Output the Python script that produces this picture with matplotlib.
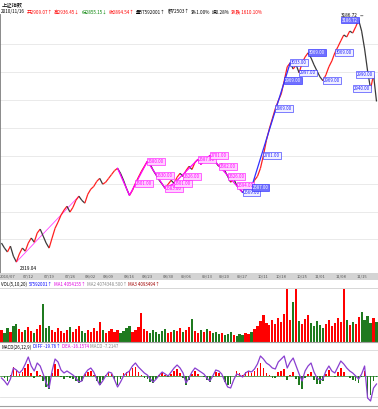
import matplotlib
matplotlib.use('Agg')
import matplotlib.pyplot as plt
import numpy as np
from matplotlib.collections import LineCollection

plt.rcParams['font.family'] = ['Noto Sans CJK SC', 'DejaVu Sans']

# ---------------- data ----------------
title = "上证指数"
closes = [2387, 2369, 2355, 2376, 2340, 2319.04, 2348, 2369, 2358, 2387,
          2405, 2390, 2423, 2437, 2412, 2387, 2369, 2405, 2440, 2462,
          2487, 2505, 2519, 2498, 2515, 2540, 2555, 2540, 2530, 2562,
          2580, 2590, 2608, 2619, 2598, 2605, 2619, 2633, 2647, 2655,
          2637, 2612, 2583, 2558, 2576, 2601, 2623, 2644, 2662, 2680,
          2669, 2647, 2630, 2612, 2598, 2583, 2598, 2612, 2601, 2623,
          2637, 2626, 2647, 2662, 2651, 2676, 2687, 2669, 2694, 2683,
          2701, 2690, 2676, 2662, 2672, 2647, 2626, 2605, 2619, 2594,
          2580, 2569, 2583, 2598, 2587, 2612, 2626, 2655, 2701, 2755,
          2797, 2833, 2869, 2897, 2922, 2969, 3019, 3033, 3011, 3026,
          2997, 3033, 3054, 3069, 3051, 3026, 3004, 2983, 2969, 2990,
          3019, 3040, 3069, 3090, 3112, 3133, 3126, 3147, 3140, 3162,
          3186.72, 3147, 3083, 3004, 2940, 2990, 2894.54]

volumes = [12, 9, 14, 10, 16, 18, 13, 10, 12, 15,
           11, 9, 13, 17, 38, 14, 16, 12, 10, 14,
           11, 9, 12, 15, 10, 13, 16, 11, 9, 12,
           10, 14, 11, 20, 12, 9, 11, 13, 10, 12,
           9, 11, 14, 16, 10, 12, 15, 29, 13, 11,
           9, 12, 10, 8, 11, 13, 9, 10, 12, 11,
           14, 10, 12, 15, 23, 11, 9, 12, 10, 13,
           11, 9, 10, 8, 9, 7, 8, 10, 7, 6,
           8, 7, 9, 8, 10, 13, 16, 21, 27, 19,
           17, 22, 18, 24, 20, 28, 53, 22, 40, 53,
           21, 18, 23, 27, 19, 16, 21, 17, 14, 18,
           22, 16, 19, 24, 20, 53, 22, 17, 20, 18,
           25, 30, 22, 26, 19, 24, 20]

diff = [-2, -5, -9, -3, 8, 6, 3, 6, 12, 19,
        10, 5, 13, 10, 2, -7, -12, 5, 17, 14,
        6, 3, 5, 3, 1, -2, -6, -5, 2, 6,
        8, 4, -3, -9, -5, 0, 4, 3, -4, -11,
        -6, 0, 3, 5, 10, 13, 9, 6, 3, 1,
        -3, -6, -3, 1, 4, 2, 0, 4, 8, 11,
        8, 3, -7, -2, 4, 8, 6, 4, 2, -2,
        -5, 0, 6, 5, 2, -5, -11, -12, -4, 2,
        1, -1, 3, 5, 4, 7, 12, 20, 17, 13,
        11, 8, 7, 14, 17, 20, 8, 14, 18, 10,
        2, -5, 5, 10, 13, 4, -2, -4, -3, 5,
        10, 5, 3, 9, 15, 12, 8, 5, 3, 0,
        -3, 2, 10, -22, -25, -12, -8]

date_labels = ["2010/07", "07/12", "07/19", "07/26", "08/02", "08/09", "08/16",
               "08/23", "08/30", "09/06", "09/13", "09/20", "09/27", "10/11",
               "10/18", "10/25", "11/01", "11/08", "11/15"]
date_ticks = [2, 9, 16, 23, 30, 36, 43, 49, 56, 62, 69, 75, 81, 88, 94, 101, 107, 114, 121]

magenta_pivots = [5, 26]
magenta_pivots2 = [39, 43, 49, 55, 58, 66, 67, 70, 81]
blue_pivots = [81, 84, 97]
magenta_boxes = [45, 49, 52, 55, 58, 61, 66, 70, 73, 76, 79]
blue_boxes = [81, 84, 88, 92, 95, 97, 100, 103, 108, 112, 120, 124, 125]

header_parts = [("2010/11/16", "black"), ("开2909.07↑", "red"),
                ("高2936.45↓", "red"), ("低2855.15↓", "green"),
                ("收2894.54↑", "red"), ("量57592001↑", "black"),
                ("额72503↑", "black"), ("涨-1.00%", "black"),
                ("振0.28%", "black"), ("涨跌 1610.10%", "red")]
vol_parts = [("VOL(5,10,20)", "black"), ("57592001↑", "blue"),
             ("MA1 4054155↑", "#e000e0"), ("MA2 4074348.500↑", "#888888"),
             ("MA3 4093494↑", "#a00000")]
macd_parts = [("MACD(26,12,9)", "black"), ("DIFF -19.76↑", "blue"),
              ("DEA -16.1574", "#e000e0"), ("MACD -7.2147", "#888888")]

# ---------------- figure ----------------
W, H = 378, 409
fig = plt.figure(figsize=(W / 100, H / 100), dpi=100)
renderer = fig.canvas.get_renderer()


def fy(px):
    return 1 - px / H


n = len(closes)
x = np.arange(n)
c = np.array(closes, float)

# main panel
ax = fig.add_axes([0, fy(273), 1, (273 - 14) / H])
ppx = (262 - 20) / (max(closes) - min(closes))
ax.set_ylim(min(closes) - (273 - 262) / ppx, max(closes) + (20 - 14) / ppx)
ax.set_xlim(-0.5, n - 0.5)
for v in range(2400, 3200, 100):
    ax.axhline(v, color='#e6e6e6', lw=0.6, zorder=0)
segs = [[(i - 1, c[i - 1]), (i, c[i])] for i in range(1, n)]
cols = ['#ff2020' if c[i] >= c[i - 1] else '#3a3a3a' for i in range(1, n)]
ax.add_collection(LineCollection(segs, colors=cols, linewidths=0.9, zorder=3))

ax.plot(magenta_pivots, c[magenta_pivots], color='#ff40ff', lw=0.6, zorder=2)
ax.plot(magenta_pivots2, c[magenta_pivots2], color='#ff00ff', lw=0.9, zorder=4)
ax.plot(blue_pivots, c[blue_pivots], color='#3030ff', lw=0.9, zorder=4)

for i in magenta_boxes:
    ax.text(i + 0.3, c[i], f"{c[i]:.2f}", fontsize=3.2, color='#ff00ff',
            va='center', ha='left', zorder=5,
            bbox=dict(boxstyle='square,pad=0.2', fc='#ffd0ff', ec='#ff00ff', lw=0.4))
for k, i in enumerate(blue_boxes):
    filled = k % 3 == 1
    right_side = i > n - 8
    ax.text(i - 0.3 if right_side else i + 0.3, c[i], f"{c[i]:.2f}", fontsize=3.2,
            color='white' if filled else '#2020ff', va='center',
            ha='right' if right_side else 'left', zorder=5,
            bbox=dict(boxstyle='square,pad=0.2', fc='#7070ff' if filled else '#f0f0ff',
                      ec='#2020ff', lw=0.4))

ilow = int(np.argmin(c))
ihigh = int(np.argmax(c))
ax.annotate(f"{c[ilow]:.2f}", xy=(ilow, c[ilow]), xytext=(ilow + 1.2, c[ilow] - 22),
            fontsize=3.4, color='black', va='center', ha='left',
            arrowprops=dict(arrowstyle='-', color='black', lw=0.4,
                            connectionstyle='angle,angleA=0,angleB=90'))
ax.annotate(f"{c[ihigh]:.2f}", xy=(ihigh + 1.5, c[ihigh] + 15), xytext=(ihigh - 6, c[ihigh] + 15),
            fontsize=3.4, color='black', va='center', ha='left',
            arrowprops=dict(arrowstyle='-', color='black', lw=0.4))

for s in ['top', 'right', 'bottom']:
    ax.spines[s].set_visible(False)
ax.spines['left'].set_color('#777777')
ax.spines['left'].set_linewidth(0.6)
ax.set_xticks([])
ax.set_yticks([])
ax.patch.set_alpha(0)

# date strip
axd = fig.add_axes([0, fy(280), 1, 7 / H])
axd.set_facecolor('#d4d4d4')
axd.set_xlim(-0.5, n - 0.5)
axd.set_ylim(0, 1)
for t, lab in zip(date_ticks, date_labels):
    axd.text(t, 0.5, lab, fontsize=3.0, color='#555555', ha='center', va='center')
axd.set_xticks([])
axd.set_yticks([])
for s in axd.spines.values():
    s.set_visible(False)

# volume panel
axv = fig.add_axes([0, fy(342), 1, (342 - 288) / H])
axv.set_xlim(-0.5, n - 0.5)
axv.set_ylim(0, 54)
vcols = ['#ff0000' if (i == 0 or c[i] >= c[i - 1]) else '#1f7a1f' for i in range(n)]
axv.bar(x, volumes, width=0.75, color=vcols, zorder=2)
axv.set_xticks([])
axv.set_yticks([])
for s in ['left', 'right']:
    axv.spines[s].set_visible(False)
axv.spines['top'].set_color('#d0d0d0')
axv.spines['bottom'].set_color('#a0a0a0')
axv.spines['top'].set_linewidth(0.6)
axv.spines['bottom'].set_linewidth(0.8)

# MACD panel
d = np.array(diff, float)
dea = np.zeros_like(d)
dea[0] = d[0]
for i in range(1, n):
    dea[i] = dea[i - 1] + (d[i] - dea[i - 1]) * 2 / 10
hist = d - dea
axm = fig.add_axes([0, fy(406), 1, (406 - 350) / H])
axm.set_xlim(-0.5, n - 0.5)
axm.set_ylim(-30, 26)
axm.axhline(0, color='#1f7a1f', lw=0.5, zorder=1)
axm.axhline(-21, color='#e0e0e0', lw=0.6, zorder=0)
axm.bar(x, hist, width=0.55, color=['#ff0000' if h >= 0 else '#1f7a1f' for h in hist], zorder=2)
axm.plot(x, d, color='#8a3fd0', lw=0.9, zorder=3)
axm.set_xticks([])
axm.set_yticks([])
for s in ['left', 'right']:
    axm.spines[s].set_visible(False)
axm.spines['top'].set_color('#d8d8d8')
axm.spines['bottom'].set_color('#a0a0a0')
axm.spines['top'].set_linewidth(0.6)


# texts, placed one after another
def place_parts(parts, y_px, x0, fs, gap):
    xpos = x0
    for txt, col in parts:
        t = fig.text(xpos / W, fy(y_px), txt, fontsize=fs, color=col, va='center', ha='left')
        bb = t.get_window_extent(renderer)
        xpos += bb.width + gap


fig.text(2 / W, fy(5), title, fontsize=3.8, color='black', va='center', ha='left')
place_parts(header_parts, 12, 1, 3.3, 1.5)
place_parts(vol_parts, 284, 1, 3.2, 1.5)
place_parts(macd_parts, 347, 1, 3.2, 1.5)

fig.savefig('out.png', dpi=100)
